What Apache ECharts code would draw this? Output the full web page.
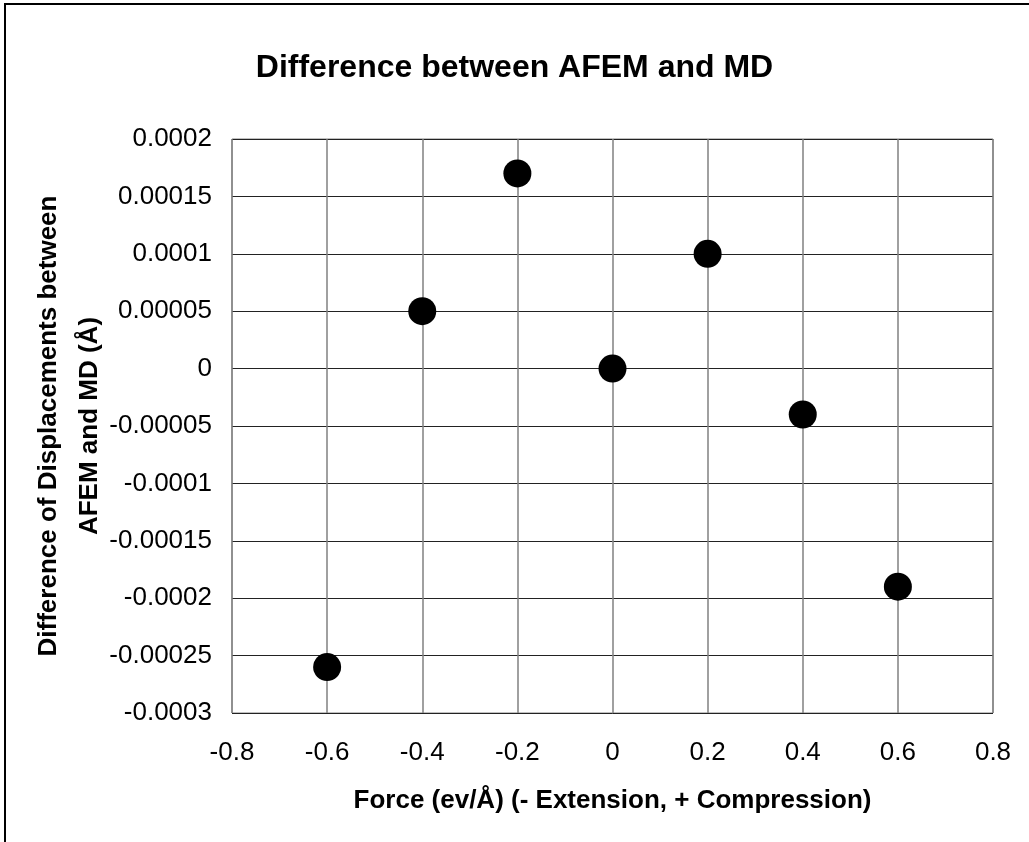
<!DOCTYPE html>
<html>
<head>
<meta charset="utf-8">
<script src="https://cdn.jsdelivr.net/npm/echarts@6/dist/echarts.min.js"></script>
<style>
html,body{margin:0;padding:0;background:#fff;}
#chart{width:1029px;height:842px;}
</style>
</head>
<body>
<div id="chart"></div>
<script>
const forces = [-0.6, -0.4, -0.2, 0, 0.2, 0.4, 0.6];
const differences = [-0.00026, 0.00005, 0.00017, 0, 0.0001, -0.00004, -0.00019];
const xTickLabels = ['-0.8','-0.6','-0.4','-0.2','0','0.2','0.4','0.6','0.8'];
const yTickLabels = ['-0.0003','-0.00025','-0.0002','-0.00015','-0.0001','-0.00005','0','0.00005','0.0001','0.00015','0.0002'];
const titleText = 'Difference between AFEM and MD';
const xName = 'Force (ev/Å) (- Extension, + Compression)';
const yName = 'Difference of Displacements between\nAFEM and MD (Å)';

const font = 'Arial, "Liberation Sans", sans-serif';
const chart = echarts.init(document.getElementById('chart'), null, {renderer:'canvas'});
function idxLabel(arr, min, step){
  return function(v){ const i = Math.round((v - min)/step); return arr[i] !== undefined ? arr[i] : ''; };
}
chart.setOption({
  animation:false,
  backgroundColor:'#fff',
  title:{
    text:titleText, left:'center', top:47,
    textStyle:{fontFamily:font, fontSize:32, fontWeight:'bold', color:'#000'}
  },
  graphic:[
    {type:'line', shape:{x1:4,y1:4,x2:1029,y2:4}, style:{stroke:'#000', lineWidth:2}},
    {type:'line', shape:{x1:5,y1:4,x2:5,y2:842}, style:{stroke:'#000', lineWidth:2}}
  ],
  grid:{left:232, right:36, top:139, bottom:129, show:true, borderColor:'#808080', borderWidth:1, backgroundColor:'#fff'},
  xAxis:{
    type:'value', min:-0.8, max:0.8, interval:0.2,
    name:xName, nameLocation:'middle', nameGap:75, nameMoveOverlap:false,
    nameTextStyle:{fontFamily:font, fontSize:26, fontWeight:'bold', color:'#000'},
    axisLine:{show:false}, axisTick:{show:false},
    axisLabel:{fontFamily:font, fontSize:26, color:'#000', margin:27, formatter:idxLabel(xTickLabels,-0.8,0.2)},
    splitLine:{show:true, lineStyle:{color:'#808080', width:1.5}}
  },
  yAxis:{
    type:'value', min:-0.0003, max:0.0002, interval:0.00005,
    name:yName, nameLocation:'middle', nameGap:122, nameRotate:90, nameMoveOverlap:false,
    nameTextStyle:{fontFamily:font, fontSize:26, fontWeight:'bold', color:'#000', lineHeight:41, align:'center'},
    axisLine:{show:false}, axisTick:{show:false},
    axisLabel:{fontFamily:font, fontSize:26, color:'#000', margin:20, formatter:idxLabel(yTickLabels,-0.0003,0.00005)},
    splitLine:{show:true, lineStyle:{color:'#222', width:1}}
  },
  series:[{
    type:'scatter',
    data:forces.map((f,i)=>[f, differences[i]]),
    symbol:'circle', symbolSize:28,
    itemStyle:{color:'#000', opacity:1}
  }]
});
</script>
</body>
</html>
